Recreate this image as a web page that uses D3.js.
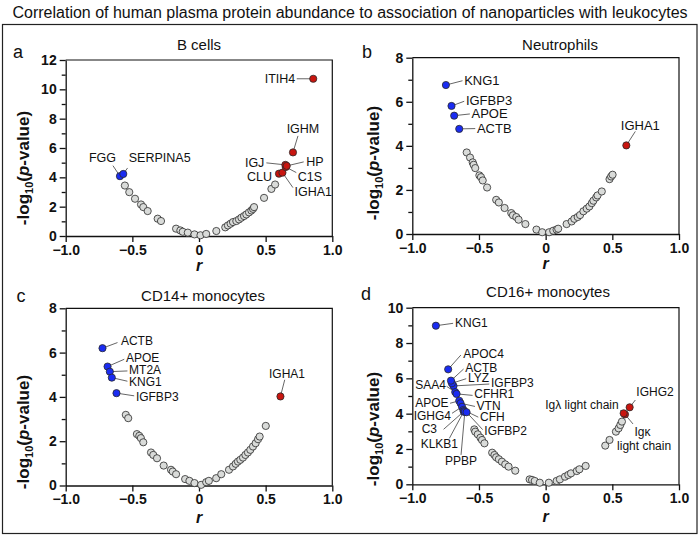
<!DOCTYPE html>
<html><head><meta charset="utf-8">
<script src="https://cdn.jsdelivr.net/npm/d3@7/dist/d3.min.js"></script>
<style>
body{margin:0;background:#fff;}
svg{font-family:"Liberation Sans",Arial,sans-serif;}
</style></head>
<body><svg id="c" width="700" height="537"></svg>
<script>
// ---------- DATA ----------
const chartTitle = "Correlation of human plasma protein abundance to association of nanoparticles with leukocytes";
const panelTitles = ["B cells", "Neutrophils", "CD14+ monocytes", "CD16+ monocytes"];
const panelLetters = ["a", "b", "c", "d"];
const xTickValues = [-1, -0.5, 0, 0.5, 1];
const yMaxValues = [12, 8, 8, 10];

// grey (non-significant) points: [r, -log10 p]
const greyA = [[-0.556,3.44],[-0.523,2.99],[-0.48,2.54],[-0.435,2.15],[-0.418,1.97],[-0.385,1.70],[-0.31,1.18],[-0.285,1.02],[-0.172,0.50],[-0.14,0.38],[-0.122,0.29],[-0.084,0.23],[-0.034,0.11],[0.011,0.05],[0.054,0.14],[0.13,0.34],[0.197,0.59],[0.217,0.72],[0.237,0.84],[0.255,0.95],[0.28,1.02],[0.30,1.13],[0.318,1.25],[0.338,1.36],[0.355,1.47],[0.375,1.61],[0.393,1.74],[0.405,1.85],[0.413,1.97],[0.488,2.60],[0.543,3.21],[0.571,3.51]];
const greyB = [[-0.592,3.70],[-0.567,3.47],[-0.547,3.25],[-0.54,3.14],[-0.528,2.99],[-0.497,2.66],[-0.485,2.58],[-0.472,2.43],[-0.439,2.11],[-0.371,1.55],[-0.351,1.43],[-0.308,1.18],[-0.258,0.95],[-0.245,0.85],[-0.22,0.77],[-0.203,0.65],[-0.152,0.45],[-0.069,0.20],[-0.026,0.08],[0.026,0.08],[0.057,0.15],[0.082,0.20],[0.094,0.24],[0.157,0.45],[0.195,0.57],[0.215,0.69],[0.24,0.77],[0.258,0.86],[0.283,1.03],[0.308,1.15],[0.328,1.25],[0.346,1.40],[0.358,1.51],[0.379,1.66],[0.389,1.75],[0.421,1.93],[0.479,2.49],[0.491,2.61],[0.502,2.69]];
const greyC = [[-0.549,3.19],[-0.531,3.04],[-0.466,2.32],[-0.448,2.24],[-0.436,2.14],[-0.418,1.95],[-0.36,1.49],[-0.343,1.38],[-0.315,1.23],[-0.265,0.90],[-0.21,0.71],[-0.197,0.63],[-0.172,0.51],[-0.104,0.29],[-0.072,0.21],[-0.034,0.11],[0.016,0.03],[0.054,0.15],[0.074,0.21],[0.129,0.33],[0.167,0.51],[0.225,0.71],[0.255,0.86],[0.275,0.98],[0.292,1.08],[0.31,1.16],[0.33,1.26],[0.348,1.38],[0.367,1.49],[0.385,1.61],[0.405,1.76],[0.425,1.91],[0.443,2.09],[0.455,2.21],[0.501,2.69]];
const greyD = [[-0.535,3.11],[-0.528,2.98],[-0.509,2.83],[-0.489,2.64],[-0.477,2.51],[-0.459,2.32],[-0.401,1.79],[-0.384,1.66],[-0.371,1.53],[-0.351,1.42],[-0.328,1.28],[-0.303,1.13],[-0.278,1.00],[-0.228,0.77],[-0.12,0.28],[-0.102,0.25],[-0.082,0.19],[-0.044,0.09],[0.024,0.09],[0.082,0.19],[0.107,0.28],[0.145,0.43],[0.17,0.53],[0.19,0.62],[0.233,0.75],[0.253,0.85],[0.30,1.04],[0.447,2.19],[0.479,2.51],[0.527,2.98],[0.547,3.17],[0.56,3.36],[0.572,3.55]];

// significant proteins: [name, r, -log10 p]  (negative r = blue, positive r = red)
const sigA = [["FGG",-0.593,4.08],["SERPINA5",-0.568,4.23],["CLU",0.600,4.25],["IGHA1",0.626,4.32],["C1S",0.651,4.70],["IGJ",0.648,4.85],["HP",0.658,4.78],["IGHM",0.705,5.70],["ITIH4",0.857,10.72]];
const sigB = [["KNG1",-0.748,6.76],["IGFBP3",-0.706,5.81],["APOE",-0.686,5.37],["ACTB",-0.648,4.77],["IGHA1",0.605,4.02]];
const sigC = [["ACTB",-0.724,6.20],["APOE",-0.686,5.37],["MT2A",-0.669,5.14],["KNG1",-0.654,4.87],["IGFBP3",-0.619,4.17],["IGHA1",0.611,4.02]];
const sigD = [["KNG1",-0.823,8.98],["APOC4",-0.731,6.51],["IGFBP3",-0.691,5.57],["LYZ",-0.703,5.72],["ACTB",-0.710,5.87],["SAA4",-0.678,5.22],["CFHR1",-0.668,5.12],["APOE",-0.648,4.73],["VTN",-0.638,4.59],["IGHG4",-0.627,4.39],["CFH",-0.617,4.21],["KLKB1",-0.614,4.12],["C3",-0.610,4.15],["PPBP",-0.606,4.10],["IGFBP2",-0.593,4.08],["Igκ\nlight chain",0.595,3.96],["Igλ light chain",0.585,4.02],["IGHG2",0.630,4.36]];

// ---------- LAYOUT (positions / styles only) ----------
const panelBoxes = [
  {x0:65.7, x1:332.3, y0:236,   y1:60,    title:[199,50],   letter:[18,58],  ylab:[29,168], rlab:271, lfont:12.5},
  {x0:412.3,x1:679,   y0:234,   y1:57.7,  title:[560,50],   letter:[367,58], ylab:[379,163], rlab:269, lfont:13},
  {x0:65.7, x1:332.3, y0:485.5, y1:308.3, title:[203,301],  letter:[21,302], ylab:[29,432], rlab:523, lfont:12},
  {x0:412.3,x1:679,   y0:484.3, y1:307.7, title:[548,297],  letter:[366,300],ylab:[379,429], rlab:522, lfont:12}
];
// label placement: name -> [textDx, textDy, anchor, lineEndDx, lineEndDy] (pixels relative to the point)
const labelLayouts = [
  {ITIH4:[-18,0,"end",-16.5,0], IGHM:[10,-24,"middle",5,-16.5], IGJ:[-21,-2,"end",-19,-2], HP:[19.5,-4,"start",17,-4],
   C1S:[12,10,"start",10.5,5.5], IGHA1:[12,19,"start",10.5,15], CLU:[-7,3,"end",null,null],
   FGG:[-17.5,-18.5,"middle",-7,-10.5], SERPINA5:[5.5,-16.3,"start",4.3,-6]},
  {KNG1:[18.3,-4.3,"start",16.6,-4.3], IGFBP3:[14.4,-5.3,"start",12.7,-4.7], APOE:[17.3,-2.4,"start",15.7,-1.7],
   ACTB:[17.7,-0.7,"start",16,-0.3], IGHA1:[14,-19.7,"middle",9,-14]},
  {ACTB:[18.4,-7.3,"start",15,-5.6], APOE:[18.4,-9,"start",16.7,-7.3], MT2A:[19.3,-1.7,"start",17.6,-0.7],
   KNG1:[17.3,4.6,"start",15.6,3.6], IGFBP3:[19.4,3.4,"start",17.7,2.7], IGHA1:[6.6,-22.7,"middle",4.3,-16.7]},
  {KNG1:[19.2,-3.4,"start",17.2,-2.4], APOC4:[15,-16,"start",12.7,-14.3], ACTB:[14.3,-13.3,"start",12.6,-11.6],
   LYZ:[16,-5.5,"start",14.3,-4.6], IGFBP3:[37.5,-3.2,"start",35.8,-1.9], SAA4:[-9.3,-7.8,"end",-8.6,-5.8],
   CFHR1:[17.7,-0.2,"start",16,1.5], APOE:[-10.6,1.9,"end",-9.2,2.5], VTN:[16,2.5,"start",14.4,3.2],
   IGHG4:[-11,8.9,"end",-10,6.5], CFH:[16.6,7.2,"start",14.9,7.2], C3:[-27.3,17.3,"end",-20.7,18.3],
   KLKB1:[-24.4,32.5,"middle",-14.4,26.8], PPBP:[-3.8,48.8,"middle",-3.8,43], IGFBP2:[17.8,18.8,"start",16.1,17.4],
   IGHG2:[6.7,-15.6,"start",5.7,-7.3], "Igλ light chain":[-5,-9,"end",-3.3,-3.3], "Igκ\nlight chain":[9.4,17.3,"start",8,9.6]}
];
const greySets = [greyA, greyB, greyC, greyD];
const sigSets = [sigA, sigB, sigC, sigD];
const colors = {grey:"#d9dbd9", blue:"#1a2cf2", red:"#c8150f", stroke:"#2a2a2a"};
const R = 3.6;

// ---------- DRAW ----------
const svg = d3.select("#c");
svg.append("text").attr("x",350).attr("y",18).attr("text-anchor","middle")
  .attr("font-size",16).attr("fill","#111").text(chartTitle);
svg.append("rect").attr("x",2.5).attr("y",24.5).attr("width",694.5).attr("height",509)
  .attr("fill","none").attr("stroke","#222").attr("stroke-width",1.2);

panelBoxes.forEach((b,i)=>{
  const g = svg.append("g");
  const x = d3.scaleLinear().domain([-1,1]).range([b.x0,b.x1]);
  const y = d3.scaleLinear().domain([0,yMaxValues[i]]).range([b.y0,b.y1]);

  // box top/right
  g.append("path").attr("d",`M${b.x0},${b.y1}H${b.x1}V${b.y0}`).attr("fill","none").attr("stroke","#111").attr("stroke-width",1.2);

  const major = d3.range(0, yMaxValues[i]+0.01, 2);
  const minor = d3.range(1, yMaxValues[i], 2);
  g.append("g").attr("transform",`translate(${b.x0},0)`)
    .call(d3.axisLeft(y).tickValues(major).tickSize(6).tickSizeOuter(0).tickFormat(d3.format("d")));
  g.append("g").attr("transform",`translate(${b.x0},0)`)
    .call(d3.axisLeft(y).tickValues(minor).tickSize(4).tickSizeOuter(0).tickFormat(""))
    .select(".domain").remove();
  g.append("g").attr("transform",`translate(0,${b.y0})`)
    .call(d3.axisBottom(x).tickValues(xTickValues).tickSize(6).tickSizeOuter(0)
      .tickFormat(d=> d===0 ? "0" : d3.format(".1f")(d)));
  g.selectAll(".tick text").attr("font-family","Liberation Sans, Arial, sans-serif")
    .attr("font-size",14).attr("font-weight","bold").attr("fill","#111");
  g.selectAll(".domain, .tick line").attr("stroke","#111").attr("stroke-width",1.3);

  // titles
  g.append("text").attr("x",b.title[0]).attr("y",b.title[1]).attr("text-anchor","middle")
    .attr("font-size",15).attr("fill","#111").text(panelTitles[i]);
  g.append("text").attr("x",b.letter[0]).attr("y",b.letter[1]).attr("text-anchor","middle")
    .attr("font-size",18).attr("fill","#111").text(panelLetters[i]);
  // y label
  const yl = g.append("text").attr("transform",`translate(${b.ylab[0]},${b.ylab[1]}) rotate(-90)`)
    .attr("text-anchor","middle").attr("font-size",17).attr("font-weight","bold").attr("fill","#111");
  yl.append("tspan").text("-log");
  yl.append("tspan").attr("font-size",11).attr("dy",4).text("10");
  yl.append("tspan").attr("dy",-4).text("(");
  yl.append("tspan").attr("font-style","italic").text("p");
  yl.append("tspan").text("-value)");
  // r label
  g.append("text").attr("x",(b.x0+b.x1)/2).attr("y",b.rlab).attr("text-anchor","middle")
    .attr("font-size",16).attr("font-weight","bold").attr("font-style","italic").attr("fill","#111").text("r");

  // grey points
  g.append("g").selectAll("circle").data(greySets[i]).join("circle")
    .attr("cx",d=>x(d[0])).attr("cy",d=>y(d[1])).attr("r",R)
    .attr("fill",colors.grey).attr("stroke",colors.stroke).attr("stroke-width",0.8);

  // leader lines + labels
  const lay = labelLayouts[i];
  const lg = g.append("g");
  sigSets[i].forEach(d=>{
    const L = lay[d[0]]; if(!L) return;
    const px = x(d[1]), py = y(d[2]);
    if(L[3]!==null){
      lg.append("line").attr("x1",px).attr("y1",py).attr("x2",px+L[3]).attr("y2",py+L[4])
        .attr("stroke","#555").attr("stroke-width",0.9);
    }
    const lines = d[0].split("\n");
    lines.forEach((t,k)=>{
      let dx = L[0];
      if(k>0){ dx = L[0]-17.3; }
      lg.append("text").attr("x",px+dx).attr("y",py+L[1]+k*14).attr("dy","0.35em")
        .attr("text-anchor",L[2]).attr("font-size",b.lfont).attr("fill","#111").text(t);
    });
  });
  // significant points
  g.append("g").selectAll("circle").data(sigSets[i]).join("circle")
    .attr("cx",d=>x(d[1])).attr("cy",d=>y(d[2])).attr("r",R)
    .attr("fill",d=> d[1]<0 ? colors.blue : colors.red).attr("stroke",colors.stroke).attr("stroke-width",0.8);
});
</script></body></html>
